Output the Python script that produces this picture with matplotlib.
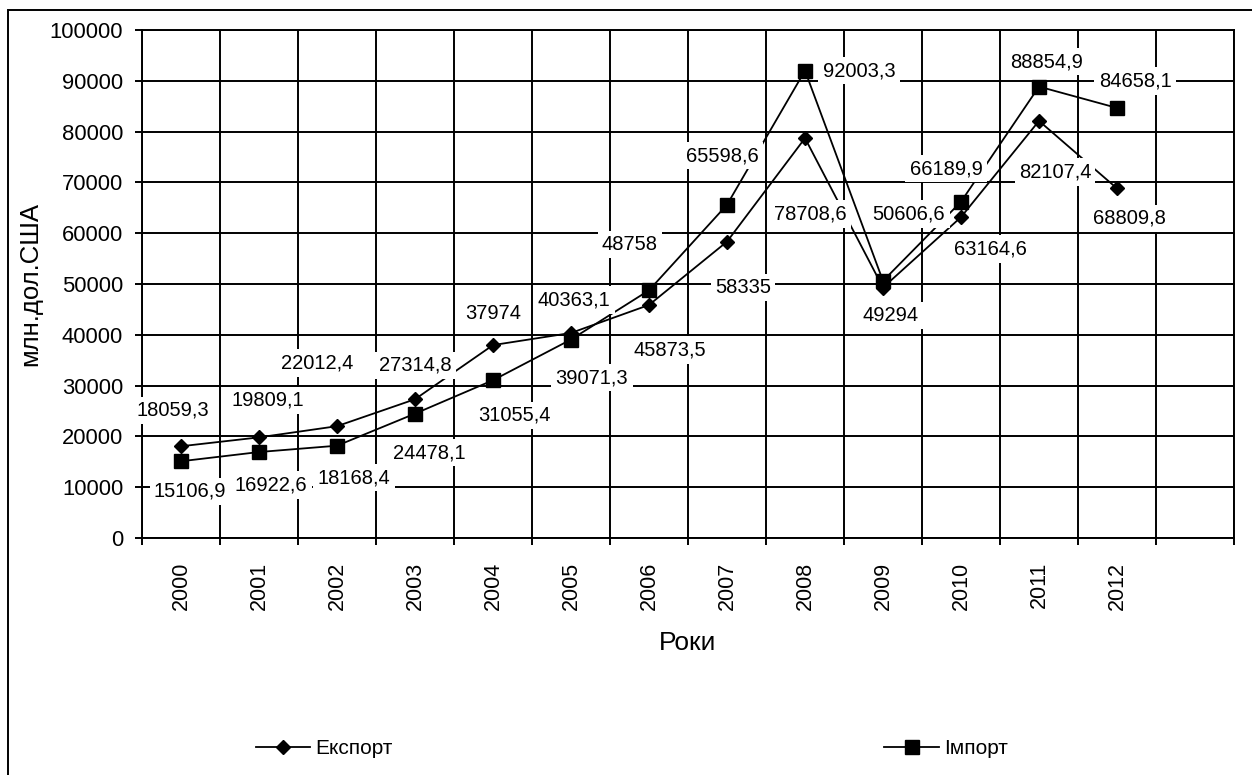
# export / import of Ukraine 2000-2012, Excel-style line chart

import matplotlib.pyplot as plt
from matplotlib.patches import Rectangle
import numpy as np

plt.rcParams['font.family'] = ['Liberation Sans', 'DejaVu Sans']

years = ['2000', '2001', '2002', '2003', '2004', '2005', '2006',
         '2007', '2008', '2009', '2010', '2011', '2012']
export = [18059.3, 19809.1, 22012.4, 27314.8, 37974, 40363.1, 45873.5,
          58335, 78708.6, 49294, 63164.6, 82107.4, 68809.8]
imports = [15106.9, 16922.6, 18168.4, 24478.1, 31055.4, 39071.3, 48758,
           65598.6, 92003.3, 50606.6, 66189.9, 88854.9, 84658.1]

# where each value label sits relative to its point (pixels, y up)
export_offsets = [(-8, 36), (9, 37), (-20, 63), (0, 34), (0, 32), (3, 33), (21, -45),
                  (16, -46), (5, -76), (8, -28), (29, -32), (16, -51), (12, -30)]
import_offsets = [(9, -30), (12, -33), (17, -32), (14, -39), (21, -35), (21, -38), (-19, 46),
                  (-5, 49), (54, 0), (26, 67), (-15, 33), (8, 25), (18, 27)]


def fmt(v):
    return f'{v:g}'.replace('.', ',')


W, H = 1252, 775
fig = plt.figure(figsize=(W / 100, H / 100), dpi=100)
ax = fig.add_axes([142 / W, 1 - 538 / H, 1092 / W, 508 / H])

x = np.arange(len(years))

ax.plot(x, export, color='black', lw=1.3, marker='D', ms=7.2, zorder=3, label='Експорт')
ax.plot(x, imports, color='black', lw=1.3, marker='s', ms=10, zorder=3, label='Імпорт')

for vals, offs in [(export, export_offsets), (imports, import_offsets)]:
    for xi, v, off in zip(x, vals, offs):
        ax.annotate(fmt(v), (xi, v), xytext=off, textcoords='offset pixels',
                    ha='center', va='center', fontsize=14.5, zorder=5,
                    bbox=dict(facecolor='white', edgecolor='none', pad=3))

ax.set_xlim(-0.5, 13.5)
ax.set_ylim(0, 100000)
ax.set_yticks(np.arange(0, 100001, 10000))
ax.set_xticks(np.arange(-0.5, 13.6, 1))
ax.set_xticklabels([])
ax.set_xticks(x, minor=True)
ax.set_xticklabels(years, minor=True, rotation=90, fontsize=15.5)
ax.tick_params(axis='x', which='minor', length=0, pad=17)
ax.tick_params(axis='both', which='major', length=5, width=1.4, direction='out')
ax.tick_params(axis='y', labelsize=15.8, pad=8.5)
ax.grid(True, which='major', color='black', lw=1.4)
ax.set_axisbelow(True)
for s in ax.spines.values():
    s.set_linewidth(1.4)

ax.set_ylabel('млн.дол.США', fontsize=18.5, va='center')
ax.yaxis.set_label_coords((30 - 142) / 1092, 0.5)
ax.set_xlabel('Роки', fontsize=19, va='center')
ax.xaxis.set_label_coords(0.5, (538 - 643) / 508)

fig.legend(loc='center left', ncol=2,
           bbox_to_anchor=(256 / W, 1 - 749 / H), frameon=False, fontsize=15,
           borderpad=0, borderaxespad=0, handlelength=2.6, handletextpad=0.25,
           columnspacing=23.6, numpoints=1)

# outer chart border
fig.add_artist(Rectangle((8 / W, -0.05), 1.1, 1 - 10 / H + 0.05, transform=fig.transFigure,
                         fill=False, ec='black', lw=1.4, clip_on=False))

plt.savefig('out.png', dpi=100)
